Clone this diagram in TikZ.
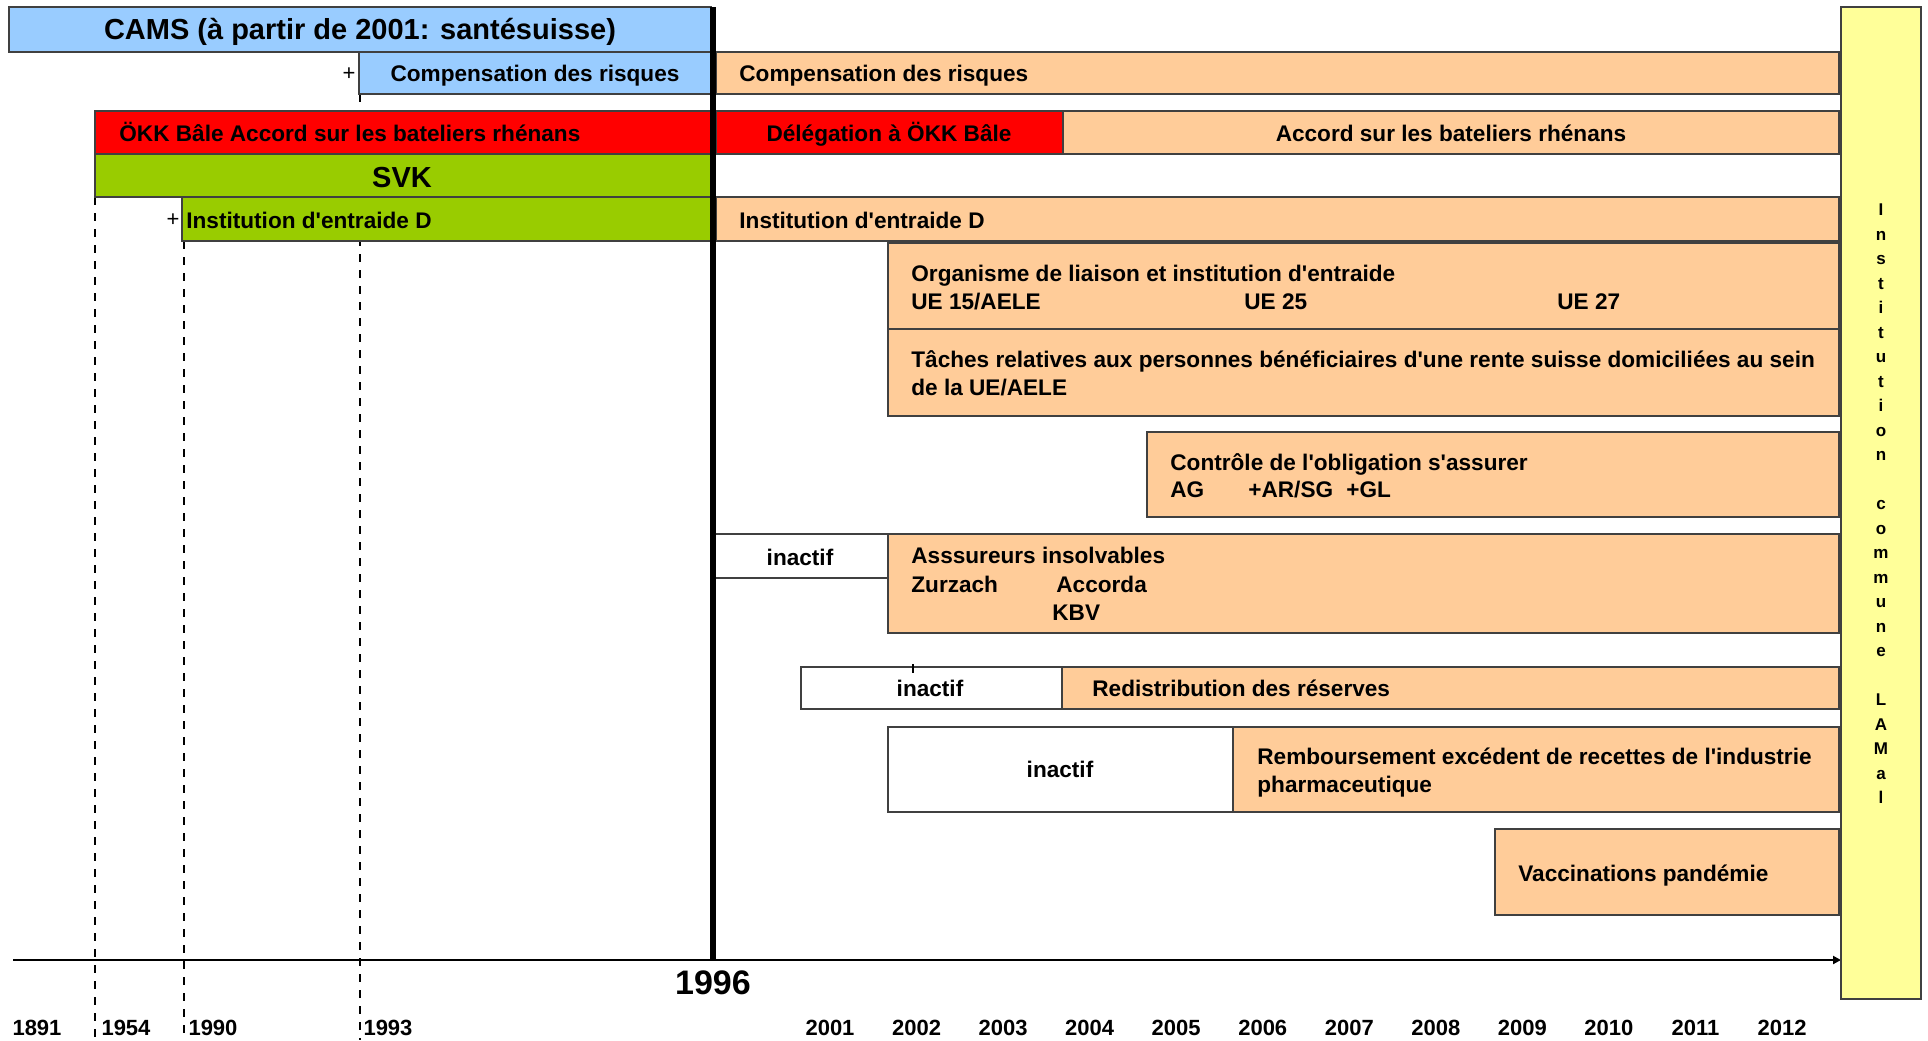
\documentclass[tikz,border=0pt]{standalone}
\usepackage{fontspec}
\setmainfont{Liberation Sans}[Ligatures=TeXOff]
\usetikzlibrary{arrows.meta}
\definecolor{CamsBlue}{RGB}{153,204,255}
\definecolor{OkkRed}{RGB}{255,0,0}
\definecolor{SvkGreen}{RGB}{153,204,0}
\definecolor{TaskOrange}{RGB}{255,204,153}
\definecolor{LamalYellow}{RGB}{255,255,153}

\begin{document}
\begin{tikzpicture}[x=0.5pt,y=-0.5pt,
	bar/.style={draw=black!75,line width=0.75pt},
	lbl/.style={anchor=base west,inner sep=0pt,font=\fontsize{11.3}{14}\selectfont\bfseries},
	clbl/.style={anchor=base,inner sep=0pt,font=\fontsize{11.3}{14}\selectfont\bfseries},
	big/.style={anchor=base,inner sep=0pt,font=\fontsize{14.5}{17}\selectfont\bfseries},
	yr/.style={anchor=base,inner sep=0pt,font=\fontsize{11}{13}\selectfont\bfseries},
	guide/.style={dash pattern=on 4pt off 4pt,line width=0.6pt}]
	\useasboundingbox (0,0) rectangle (1928,1040);
	% dashed year guides
	\draw[guide] (95,197) -- (95,1040);
	\draw[guide] (184,241) -- (184,1040);
	\draw[guide] (360,94) -- (360,1040);
	% before 1996
	\filldraw[bar,fill=CamsBlue] (9,7) rectangle (711,52);
	\node[big] (cams) at (360,39) {CAMS (à partir de 2001: santésuisse)};
	\filldraw[bar,fill=CamsBlue] (359,52) rectangle (711,94);
	\node[clbl] (compold) at (535,81) {Compensation des risques};
	\node[font=\fontsize{11}{13}\selectfont,inner sep=0pt] (pluscomp) at (349,74) {+};
	\filldraw[bar,fill=OkkRed] (95,111) rectangle (711,154);
	\node[lbl] (okkold) at (119,141) {ÖKK Bâle Accord sur les bateliers rhénans};
	\filldraw[bar,fill=SvkGreen] (95,154) rectangle (711,197);
	\node[big] (svk) at (402,187) {SVK};
	\filldraw[bar,fill=SvkGreen] (182,197) rectangle (711,241);
	\node[lbl] (instold) at (186,228) {Institution d'entraide D};
	\node[font=\fontsize{11}{13}\selectfont,inner sep=0pt] (plusinst) at (173,220) {+};
	% after 1996
	\filldraw[bar,fill=TaskOrange] (716,52) rectangle (1839,94);
	\node[lbl] (comp) at (739,81) {Compensation des risques};
	\filldraw[bar,fill=OkkRed] (716,111) rectangle (1063,154);
	\node[clbl] (deleg) at (889,141) {Délégation à ÖKK Bâle};
	\filldraw[bar,fill=TaskOrange] (1063,111) rectangle (1839,154);
	\node[clbl] (accord) at (1451,141) {Accord sur les bateliers rhénans};
	\filldraw[bar,fill=TaskOrange] (716,197) rectangle (1839,241);
	\node[lbl] (inst) at (739,228) {Institution d'entraide D};
	\filldraw[bar,fill=TaskOrange] (888,243) rectangle (1839,329);
	\node[lbl] (liaison) at (911,281) {Organisme de liaison et institution d'entraide};
	\node[lbl] (ue15) at (911,309) {UE 15/AELE};
	\node[lbl] (ue25) at (1244,309) {UE 25};
	\node[lbl] (ue27) at (1557,309) {UE 27};
	\filldraw[bar,fill=TaskOrange] (888,329) rectangle (1839,416);
	\node[lbl] (rente) at (911,367) {Tâches relatives aux personnes bénéficiaires d'une rente suisse domiciliées au sein};
	\node[lbl] (rente2) at (911,395) {de la UE/AELE};
	\filldraw[bar,fill=TaskOrange] (1147,432) rectangle (1839,517);
	\node[lbl] (oblig) at (1170,470) {Contrôle de l'obligation s'assurer};
	\node[lbl] (ag) at (1170,497) {AG};
	\node[lbl] (arsg) at (1248,497) {+AR/SG};
	\node[lbl] (gl) at (1346,497) {+GL};
	\filldraw[bar,fill=white] (714,534) rectangle (888,578);
	\node[clbl] (inact1) at (800,565) {inactif};
	\filldraw[bar,fill=TaskOrange] (888,534) rectangle (1839,633);
	\node[lbl] (insolv) at (911,563) {Asssureurs insolvables};
	\node[lbl] (zurzach) at (911,592) {Zurzach};
	\node[lbl] (accorda) at (1056,592) {Accorda};
	\node[lbl] (kbv) at (1052,620) {KBV};
	\filldraw[bar,fill=white] (801,667) rectangle (1062,709);
	\draw[line width=0.6pt] (913,664) -- (913,673);
	\node[clbl] (inact2) at (930,696) {inactif};
	\filldraw[bar,fill=TaskOrange] (1062,667) rectangle (1839,709);
	\node[lbl] (reserves) at (1092,696) {Redistribution des réserves};
	\filldraw[bar,fill=white] (888,727) rectangle (1233,812);
	\node[clbl] (inact3) at (1060,777) {inactif};
	\filldraw[bar,fill=TaskOrange] (1233,727) rectangle (1839,812);
	\node[lbl] (rembours) at (1257,764) {Remboursement excédent de recettes de l'industrie};
	\node[lbl] (rembours2) at (1257,792) {pharmaceutique};
	\filldraw[bar,fill=TaskOrange] (1495,829) rectangle (1839,915);
	\node[lbl] (vaccin) at (1518,881) {Vaccinations pandémie};
	% time axis
	\draw[line width=3pt] (713,7) -- (713,960);
	\draw[line width=1pt,-{Triangle[length=4pt,width=4pt]}] (13,960) -- (1841,960);
	\node[anchor=base,inner sep=0pt,font=\fontsize{17}{20}\selectfont\bfseries] (y1996) at (713,994) {1996};
	\node[yr] (y1891) at (37,1035) {1891};
	\node[yr] (y1954) at (126,1035) {1954};
	\node[yr] (y1990) at (213,1035) {1990};
	\node[yr] (y1993) at (388,1035) {1993};
	\foreach \yy [count=\i from 0] in {2001,...,2012}
		\node[yr] (y\yy) at ({830+86.55*\i},1035) {\yy};
	% institution commune
	\filldraw[bar,fill=LamalYellow] (1841,7) rectangle (1921,999);
	\foreach \ch [count=\i from 0] in {I,n,s,t,i,t,u,t,i,o,n,{},c,o,m,m,u,n,e,{},L,A,M,a,l}
		\node[anchor=base,inner sep=0pt,font=\fontsize{8.5}{9}\selectfont\bfseries] (lamal\i) at (1881,{215.5+24.5*\i}) {\ch};
\end{tikzpicture}
\end{document}
